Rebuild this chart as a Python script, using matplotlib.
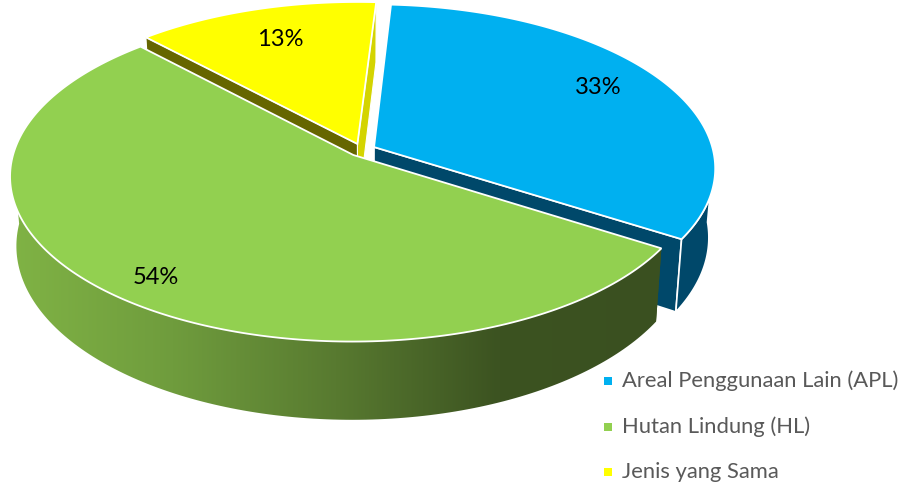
import numpy as np
import matplotlib
matplotlib.use("Agg")
import matplotlib.pyplot as plt
from matplotlib.colors import LinearSegmentedColormap
from matplotlib.patches import Polygon

categories = ['Areal Penggunaan Lain (APL)', 'Hutan Lindung (HL)', 'Jenis yang Sama']
shares = [33, 54, 13]
top_colors = ['#00b0f0', '#92d050', '#ffff00']
label_pos = [(598, 87), (156, 278), (280, 39)]
legend_y = [381, 427, 472]

# projection of the tilted pie onto the picture, in pixels
X0, Y0 = 362, 150
RX, RY = 339, 161.5
K = 0.127
DEPTH = 68
SHRINK = 0.018
EXPLODE = 0.04
START = 86.5


def project(x, y, z=0.0):
    den = 1 + K * y
    sx = X0 + RX * x / den * (1 - SHRINK * z)
    sy = Y0 - RY * y / den + DEPTH * z / den
    return np.column_stack([sx, sy])


def slice_geom(a0, a1):
    mid = np.radians((a0 + a1) / 2)
    off = EXPLODE * np.cos(mid), EXPLODE * np.sin(mid)
    t = np.radians(np.linspace(a0, a1, 200))
    return off, off[0] + np.cos(t), off[1] + np.sin(t)


def side_quad(off, px, py):
    # flat cut face between the apex and one rim point
    a = project(np.array([off[0], px]), np.array([off[1], py]))
    b = project(np.array([px, off[0]]), np.array([py, off[1]]), 1.0)
    return np.vstack([a, b])


def gradient_poly(ax, pts, stops, zorder):
    x0, x1 = pts[:, 0].min(), pts[:, 0].max()
    cmap = LinearSegmentedColormap.from_list('side', stops)
    im = ax.imshow(np.linspace(0, 1, 256).reshape(1, -1), cmap=cmap, aspect='auto',
                   extent=(x0, x1, pts[:, 1].max(), pts[:, 1].min()), zorder=zorder)
    im.set_clip_path(Polygon(pts, closed=True, transform=ax.transData))


fig = plt.figure(figsize=(9.03, 4.82), dpi=100)
ax = fig.add_axes([0, 0, 1, 1])

angles = START - np.cumsum([0] + [s * 3.6 for s in shares])
blue = slice_geom(angles[1], angles[0])
green = slice_geom(angles[2], angles[1])
yellow = slice_geom(angles[3], angles[2])

# yellow cut faces, hidden in part by the green top
off, xs, ys = yellow
ax.add_patch(Polygon(side_quad(off, xs[0], ys[0]), fc='#d4d400', ec='white', lw=0.8, zorder=1))
ax.add_patch(Polygon(side_quad(off, xs[-1], ys[-1]), fc='#666600', ec='white', lw=0.8, zorder=2))

# blue cut face and rim
off, xs, ys = blue
ax.add_patch(Polygon(side_quad(off, xs[0], ys[0]), fc='#00486a', ec='white', lw=1.2, zorder=3))
front = ys < -0.02
rim = np.vstack([project(xs[front], ys[front]), project(xs[front], ys[front], 1.0)[::-1]])
ax.add_patch(Polygon(rim, fc='#00486a', ec='white', lw=1.2, zorder=4))

# green cut face and rim
off, xs, ys = green
ax.add_patch(Polygon(side_quad(off, xs[-1], ys[-1]), fc='#3b5320', lw=0, zorder=5))
front = ys < -0.02
rim = np.vstack([project(xs[front], ys[front]), project(xs[front], ys[front], 1.0)[::-1]])
gradient_poly(ax, rim, ['#80b345', '#6f9c3d', '#587a30', '#3c5321', '#3a5020'], 6)

# top faces
for geom, color, z in zip([yellow, blue, green], [top_colors[2], top_colors[0], top_colors[1]], [7, 8, 9]):
    off, xs, ys = geom
    top = np.vstack([project(np.array([off[0]]), np.array([off[1]])), project(xs, ys)])
    ax.add_patch(Polygon(top, fc=color, ec='white', lw=1.3, joinstyle='miter', zorder=z))

for pos, s in zip(label_pos, shares):
    ax.text(pos[0], pos[1], f'{s}%', fontsize=17, family='Lato', color='black',
            ha='center', va='center', zorder=10)

for name, color, y in zip(categories, top_colors, legend_y):
    ax.scatter([608], [y], marker='s', s=36, c=color, linewidths=0, zorder=10)
    ax.text(622, y, name, fontsize=15.8, family='Lato', color='#595959',
            ha='left', va='center', zorder=10)

ax.set_xlim(0, 903)
ax.set_ylim(482, 0)
ax.axis('off')
fig.savefig('out.png', dpi=100, facecolor='white')
